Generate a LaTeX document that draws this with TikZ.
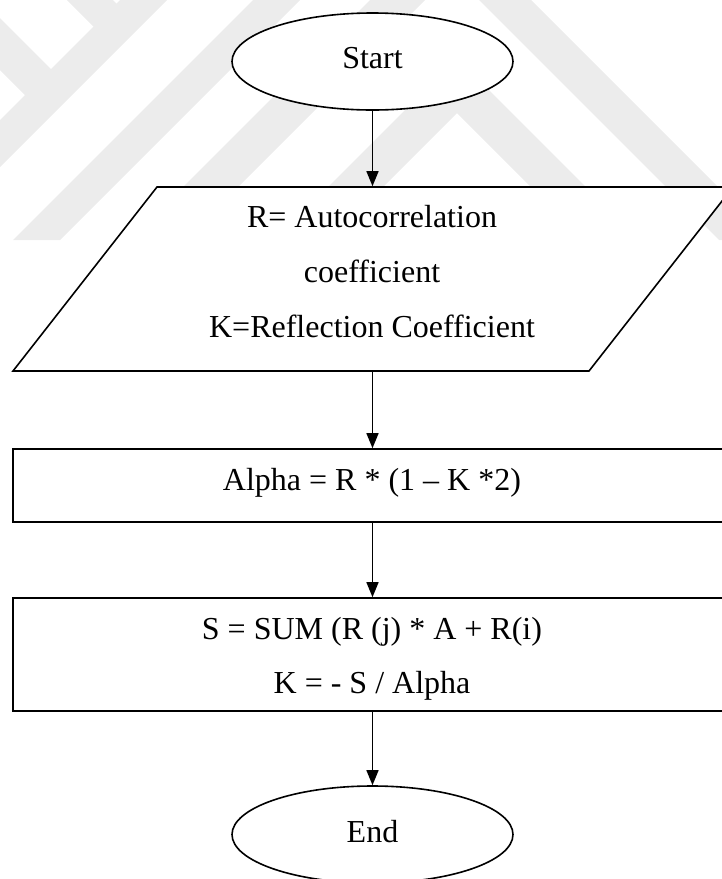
\documentclass[tikz,border=0pt]{standalone}
\usepackage{fontspec}
\setmainfont{Liberation Serif}
\usetikzlibrary{arrows.meta,shapes.geometric}
\definecolor{mark}{RGB}{236,236,236}
\begin{document}
\begin{tikzpicture}[x=1pt,y=-1pt,
  line width=1.6pt,
  term/.style={ellipse, draw, fill=white, minimum width=281pt, minimum height=97pt, inner sep=0pt},
  procbox/.style={rectangle, draw, fill=white, minimum width=720pt, inner sep=0pt},
  lbl/.style={anchor=base, inner sep=0pt, font=\fontsize{32}{38}\selectfont},
  flow/.style={-{Triangle[length=15pt,width=12pt]}, line width=1.4pt},
  band/.style={fill=mark, draw=none}]

\useasboundingbox (0,0) rectangle (722,879);
\clip (0,0) rectangle (722,879);

% faint background logo made of 45-degree bands
\begin{scope}
  \clip (0,0) rectangle (722,240);
  \fill[band] (220,-100) -- (-280,400) -- (-233,400) -- (267,-100) -- cycle;
  \fill[band] (-50,-32) -- (61,79) -- (35,105) -- (-50,20) -- cycle;
  \fill[band] (17,-50) -- (63,-50) -- (126.5,13.5) -- (103.5,36.5) -- cycle;
  \fill[band] (353,-100) -- (13,240) -- (60,240) -- (400,-100) -- cycle;
  \fill[band] (470,-100) -- (130,240) -- (185,240) -- (525,-100) -- cycle;
  \fill[band] (379,-100) -- (719,240) -- (771,240) -- (431,-100) -- cycle;
  \fill[band] (457,58) -- (757,358) -- (702,358) -- (457,113) -- (212,358) -- (157,358) -- cycle;
\end{scope}

% start terminal
\node[term] (start) at (372.5,61.5) {};
\node[lbl] (startlbl) at (372.5,68) {Start};

% input / output parallelogram
\node[minimum width=576pt, minimum height=184pt, inner sep=0pt] (io) at (373,279) {};
\draw[fill=white] (13,371) -- (589,371) -- (733,187) -- (157,187) -- cycle;
\node[lbl] (ioa) at (372,227) {R= Autocorrelation};
\node[lbl] (iob) at (372,282) {coefficient};
\node[lbl] (ioc) at (372,337) {K=Reflection Coefficient};

% processing steps
\node[procbox, minimum height=73pt] (alpha) at (373,485.5) {};
\node[lbl] (alphalbl) at (372,490) {Alpha = R * (1 – K *2)};

\node[procbox, minimum height=113pt] (sum) at (373,654.5) {};
\node[lbl] (suma) at (372,639) {S = SUM (R (j) * A + R(i)};
\node[lbl] (sumb) at (372,693) {K = - S / Alpha};

% end terminal
\node[term] (stop) at (372.5,834.5) {};
\node[lbl] (stoplbl) at (372.5,842) {End};

% connectors
\draw[flow] (start.south) -- (start.south |- io.north);
\draw[flow] (start.south |- io.south) -- (start.south |- alpha.north);
\draw[flow] (start.south |- alpha.south) -- (start.south |- sum.north);
\draw[flow] (start.south |- sum.south) -- (stop.north);
\end{tikzpicture}
\end{document}
